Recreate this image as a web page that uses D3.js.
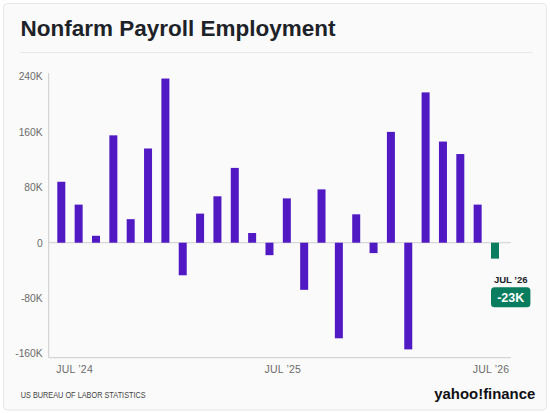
<!DOCTYPE html>
<html>
<head>
<meta charset="utf-8">
<script src="https://cdn.jsdelivr.net/npm/d3@7"></script>
<style>
  html, body { margin: 0; padding: 0; background: #ffffff; }
  svg { display: block; font-family: "Liberation Sans", Arial, Helvetica, sans-serif; }
</style>
</head>
<body>
<svg id="chart" width="550" height="413"></svg>
<script>
// ---- data ----
const months = ["2024-06","2024-07","2024-08","2024-09","2024-10","2024-11","2024-12",
  "2025-01","2025-02","2025-03","2025-04","2025-05","2025-06","2025-07","2025-08",
  "2025-09","2025-10","2025-11","2025-12","2026-01","2026-02","2026-03","2026-04",
  "2026-05","2026-06","2026-07"];
const payrollChange = [88, 55, 10, 155, 34, 136, 237, -47, 42, 67, 108, 14, -18, 64, -68,
  77, -138, 41, -15, 160, -154, 217, 146, 128, 55, -23]; // thousands
const yTicks = [240, 160, 80, 0, -80, -160];
const xTickMonths = ["2024-07", "2025-07", "2026-07"];
const xTickLabels = ["JUL \u201924", "JUL \u201925", "JUL \u201926"];
const latestLabel = "JUL \u201926";
const latestValueLabel = "-23K";

// ---- layout ----
const W = 550, H = 413;
const plot = { left: 48.7, right: 511, top: 73, bottom: 357.7 };
const purple = "#5019c4", green = "#0b7d5f";

const svg = d3.select("#chart");

// card
svg.append("rect").attr("x", 3.5).attr("y", 3.5).attr("width", 543).attr("height", 406.5)
  .attr("rx", 4).attr("fill", "#fafafa").attr("stroke", "#e6e6e6");

// title
svg.append("text").attr("x", 20.5).attr("y", 36).attr("font-size", 22.5)
  .attr("font-weight", "bold").attr("fill", "#1d2228").text("Nonfarm Payroll Employment");
svg.append("line").attr("x1", 20).attr("x2", 533).attr("y1", 52.5).attr("y2", 52.5)
  .attr("stroke", "#e8e8e8");

// scales
const x = d3.scalePoint().domain(months).range([61.3, 495]);
const y = d3.scaleLinear().domain([-166, 245]).range([plot.bottom, plot.top]);
const barW = 8;

// axes lines
const g = svg.append("g");
g.append("line").attr("x1", plot.left).attr("x2", plot.left)
  .attr("y1", plot.top).attr("y2", plot.bottom).attr("stroke", "#cccccc");
g.append("line").attr("x1", plot.left).attr("x2", plot.right)
  .attr("y1", plot.bottom).attr("y2", plot.bottom).attr("stroke", "#cccccc");

// y axis labels
const yAxis = d3.axisLeft(y).tickValues(yTicks).tickSize(0).tickPadding(6)
  .tickFormat(d => d === 0 ? "0" : d + "K");
const ya = svg.append("g").attr("transform", `translate(${plot.left},0)`).call(yAxis);
ya.select(".domain").remove();
ya.selectAll("text").attr("font-size", 10.3).attr("fill", "#6b6b6b")
  .attr("font-family", "Liberation Sans, Arial, sans-serif");

// zero line
svg.append("line").attr("x1", plot.left).attr("x2", plot.right)
  .attr("y1", y(0)).attr("y2", y(0)).attr("stroke", "#cfcfcf");

// bars
svg.append("g").selectAll("rect").data(payrollChange).join("rect")
  .attr("x", (d, i) => x(months[i]) - barW / 2)
  .attr("width", barW)
  .attr("y", d => y(Math.max(0, d)))
  .attr("height", d => Math.abs(y(d) - y(0)))
  .attr("fill", (d, i) => i === payrollChange.length - 1 ? green : purple);

// x tick labels
svg.append("g").selectAll("text").data(xTickMonths).join("text")
  .attr("x", d => x(d))
  .attr("dx", -4)
  .attr("y", 373)
  .attr("text-anchor", "middle")
  .attr("font-size", 10.5)
  .attr("letter-spacing", 0.2)
  .attr("fill", "#6b6b6b")
  .text((d, i) => xTickLabels[i]);

// latest value callout
const lastM = months[months.length - 1];
const cx = x(lastM) + 15.7;
svg.append("text").attr("x", cx).attr("y", 283.3).attr("text-anchor", "middle")
  .attr("font-size", 9.5).attr("font-weight", "bold").attr("fill", "#1d2228")
  .text(latestLabel);
svg.append("rect").attr("x", cx - 19.7).attr("y", 287.3).attr("width", 39.4).attr("height", 20)
  .attr("rx", 3.5).attr("fill", green);
svg.append("text").attr("x", cx).attr("y", 301.8).attr("text-anchor", "middle")
  .attr("font-size", 12.5).attr("font-weight", "bold").attr("fill", "#ffffff")
  .text(latestValueLabel);

// footer
svg.append("text").attr("x", 20.7).attr("y", 397.7).attr("font-size", 8.4)
  .attr("fill", "#444").attr("textLength", 125).attr("lengthAdjust", "spacingAndGlyphs")
  .text("US BUREAU OF LABOR STATISTICS");
svg.append("text").attr("x", 434.3).attr("y", 399.3).attr("font-size", 14.8)
  .attr("font-weight", "bold").attr("fill", "#0f0f14")
  .attr("textLength", 101).attr("lengthAdjust", "spacingAndGlyphs")
  .text("yahoo!finance");
</script>
</body>
</html>
